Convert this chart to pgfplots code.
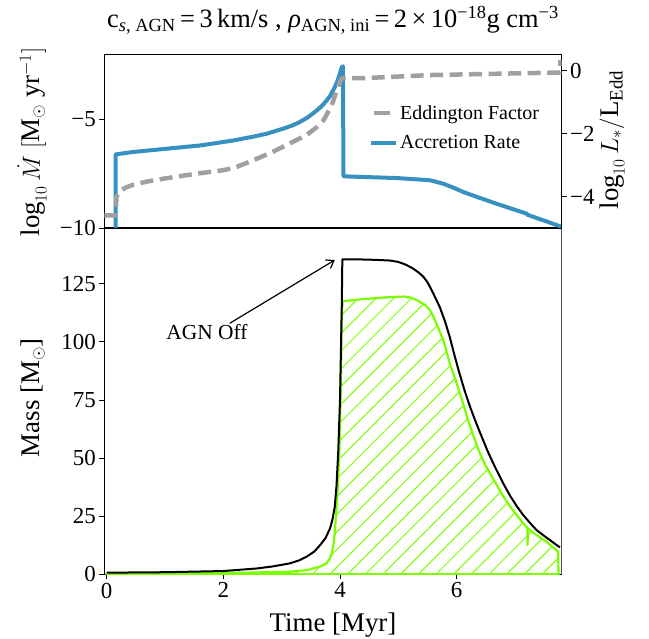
\documentclass[border=0pt]{standalone}
\usepackage{fontspec}
\setmainfont{Liberation Serif}
\usepackage{pgfplots}
\pgfplotsset{compat=1.18}
\usetikzlibrary{patterns.meta,arrows.meta}
\definecolor{accblue}{HTML}{3690C0}
\definecolor{eddgray}{HTML}{A0A0A0}
\definecolor{lgreen}{HTML}{7CFC00}
\newcommand{\tickfont}{\rmfamily\fontsize{23}{26}\selectfont}
\newcommand{\labfont}{\rmfamily\fontsize{27}{31}\selectfont}
\begin{document}
\begin{tikzpicture}
\useasboundingbox (0,0) rectangle (649bp,639bp);
% ---------------- bottom axis ----------------
\begin{axis}[
  at={(104.3bp,64.7bp)}, anchor=south west,
  scale only axis, width=457.4bp, height=346.3bp,
  xmin=-0.04, xmax=7.80, ymin=0, ymax=149,
  xtick={0,2,4,6}, ytick={0,25,50,75,100,125},
  tick align=outside, major tick length=5bp,
  xtick pos=bottom, ytick pos=left,
  tick style={black, line width=0.9bp},
  axis line style={line width=1bp},
  tick label style={font=\tickfont},
  /pgf/number format/assume math mode=true,
  xlabel={Time [Myr]}, ylabel={Mass [M$_\odot$]},
  label style={font=\labfont},
  xlabel style={at={(axis description cs:0.5,-0.146)}, anchor=center},
  ylabel style={at={(axis description cs:-0.156,0.51)}, anchor=center},
]
\addplot[draw=lgreen, line width=2.2bp, line join=round,
  pattern={Lines[angle=45,distance=12.5bp,line width=1bp]}, pattern color=lgreen]
coordinates {
(0,0.3)(1,0.35)(2,0.5)(2.57,0.8)(3.14,1.1)(3.43,1.8)(3.66,3.3)(3.77,4.7)(3.82,6.5)(3.86,9)
(3.89,13)(3.91,17.8)(3.95,32)(3.99,53.5)(4.01,75)(4.03,110)(4.045,117.5)(4.40,118.4)
(4.70,119)(4.97,119.4)(5.1,119.5)(5.2,119.1)(5.28,118.4)(5.37,117.2)(5.46,115.8)
(5.54,113.7)(5.6,111)(5.65,108)(5.71,104.5)(5.77,100.8)(5.83,95.6)(5.88,90.8)(5.94,86.5)
(6.0,82.2)(6.11,73.5)(6.2,66)(6.29,59.2)(6.39,52.5)(6.49,47)(6.65,40)(6.80,33.5)
(6.92,29)(7.03,25.5)(7.12,22.6)(7.2,20.2)(7.215,19.9)(7.215,12.6)(7.22,19.8)(7.29,18.3)
(7.37,16.9)(7.46,15.4)(7.54,14)(7.64,11.8)(7.74,9.7)(7.745,0)
} \closedcycle;
\addplot[black, line width=2bp, line join=round] coordinates {
(0,0.7)(1,0.9)(2,1.4)(2.57,2.5)(2.85,3.4)(3.14,4.7)(3.3,6)(3.43,7.6)(3.56,9.8)(3.66,12.6)
(3.75,15.5)(3.83,19.8)(3.87,23.5)(3.91,29)(3.94,38)(3.97,53)(4.0,75)(4.03,115)(4.04,135.5)
(4.3,135.5)(4.6,135.3)(4.86,135)(5.0,134.4)(5.12,133.3)(5.25,131.6)(5.35,129.8)(5.43,128)
(5.5,125.6)(5.56,122.8)(5.63,119.2)(5.71,115)(5.80,108.8)(5.88,102.2)(5.96,94.5)(6.03,88)
(6.13,79.5)(6.23,72)(6.32,66)(6.40,61)(6.53,53)(6.66,46)(6.79,39.5)(6.91,34)(7.03,29.3)
(7.14,25.5)(7.26,22)(7.37,19)(7.49,16.7)(7.6,14.7)(7.69,13)(7.77,11.6)
};
\draw[-{Straight Barb[length=7bp,width=10bp]}, line width=1.2bp] (axis cs:2.11,108) -- (axis cs:3.91,135.2);
\node[font=\rmfamily\fontsize{21.5}{25}\selectfont] at (axis cs:1.72,104.2) {AGN Off};
\draw[gray, line width=1.2bp] (rel axis cs:1,0) -- (rel axis cs:1,1);
\end{axis}
% ---------------- top axis, left ----------------
\begin{axis}[
  at={(104.3bp,411bp)}, anchor=south west,
  scale only axis, width=457.4bp, height=173.7bp,
  xmin=-0.04, xmax=7.80, ymin=-10, ymax=-2,
  xtick=\empty, ytick={-10,-5}, yticklabels={−10,−5},
  ytick pos=left, tick align=outside, major tick length=5bp,
  tick style={black, line width=0.9bp},
  axis line style={line width=1.1bp},
  tick label style={font=\tickfont},
  ylabel={$\log_{10}\dot{M}\;[\mathrm{M}_\odot\ \mathrm{yr}^{-1}]$},
  label style={font=\labfont},
  ylabel style={at={(axis description cs:-0.158,0.495)}, anchor=center},
]
\addplot[accblue, line width=4bp, line join=round] coordinates {
(0.154,-10.3)(0.154,-6.61)(0.45,-6.50)(1.02,-6.35)(1.60,-6.20)(2.17,-5.97)(2.50,-5.80)(2.74,-5.66)
(3.02,-5.43)(3.18,-5.28)(3.31,-5.12)(3.45,-4.90)(3.60,-4.59)(3.70,-4.35)(3.77,-4.13)(3.83,-3.92)(3.88,-3.67)
(3.93,-3.40)(3.97,-3.13)(4.00,-2.88)(4.03,-2.59)(4.05,-2.55)(4.06,-7.62)(4.97,-7.70)(5.54,-7.80)(5.77,-7.96)
(5.95,-8.15)(6.11,-8.34)(6.40,-8.62)(6.68,-8.88)(6.95,-9.12)(7.20,-9.34)(7.22,-9.40)(7.50,-9.66)(7.77,-9.92)(7.80,-9.95)
};
\end{axis}
% ---------------- top axis, right ----------------
\begin{axis}[
  at={(104.3bp,411bp)}, anchor=south west,
  scale only axis, width=457.4bp, height=173.7bp,
  xmin=-0.04, xmax=7.80, ymin=-5, ymax=0.52,
  axis x line=none, axis y line*=right,
  ytick={-4,-2,0}, yticklabels={−4,−2,0},
  tick align=outside, major tick length=5bp,
  tick style={black, line width=0.9bp},
  axis line style={line width=1.1bp},
  tick label style={font=\tickfont},
  ylabel={$\log_{10}L_*/\mathrm{L}_{\mathrm{Edd}}$},
  label style={font=\labfont},
  ylabel style={at={(axis description cs:1.11,0.507)}, anchor=center, rotate=0},
  legend style={at={(rel axis cs:0.572,0.73)}, anchor=north west, draw=none, fill=none,
    font=\rmfamily\fontsize{20}{24}\selectfont, row sep=11bp},
  legend cell align=left,
]
\addplot[eddgray, line width=4.5bp, dash pattern=on 13bp off 6.5bp, line join=round,
  legend image code/.code={\draw[solid] (3bp,0bp) -- (19bp,0bp);}]
coordinates {
(-0.04,-4.6)(0.15,-4.6)(0.17,-4.0)(0.23,-3.84)(0.32,-3.72)(0.45,-3.63)(0.7,-3.52)(1.02,-3.42)(1.30,-3.34)(1.60,-3.26)
(1.94,-3.18)(2.17,-3.10)(2.46,-2.89)(2.80,-2.62)(3.09,-2.36)(3.43,-2.04)(3.60,-1.80)(3.72,-1.57)
(3.86,-1.09)(3.95,-0.60)(4.00,-0.35)(4.03,-0.24)(4.39,-0.24)(5.54,-0.14)(7.20,-0.08)
(7.77,-0.06)(7.78,0.34)
};
\addlegendentry{Eddington Factor}
\addlegendimage{accblue, line width=4bp, legend image code/.code={\draw (0bp,0bp) -- (25bp,0bp);}}
\addlegendentry{Accretion Rate}
\end{axis}
\node[font=\rmfamily\fontsize{26.5}{31}\selectfont] at (333bp,619bp)
  {c\textsubscript{\textit{s}, AGN}\,=\,3\,km/s , \textit{ρ}\textsubscript{AGN, ini}\,=\,2\,×\,10\textsuperscript{−18}g cm\textsuperscript{−3}};
\end{tikzpicture}
\end{document}
